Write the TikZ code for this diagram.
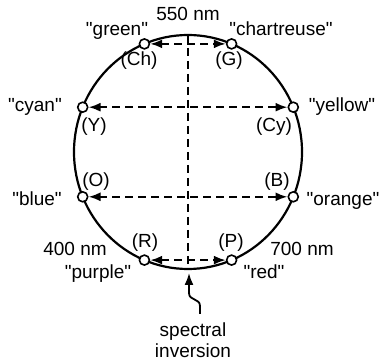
\documentclass[tikz,border=0pt]{standalone}
\usepackage{fontspec}
\setmainfont{Liberation Sans}[Ligatures=TeXOff]
\usetikzlibrary{arrows.meta}
\begin{document}
\begin{tikzpicture}[x=1pt,y=-1pt,
  lbl/.style={font=\fontsize{19}{21}\selectfont, inner sep=0pt, anchor=base},
  dot/.style={circle, draw, fill=white, line width=1.6pt, minimum size=10pt, inner sep=0pt},
  ring/.style={line width=2.2pt},
  dashln/.style={line width=2.1pt, dash pattern=on 8pt off 5pt},
  tipa/.style={-{Latex[length=12pt,width=9pt]}},
  dtip/.style={{Latex[length=12pt,width=9pt]}-{Latex[length=12pt,width=9pt]}}]
\useasboundingbox (0,0) rectangle (383,363);
\coordinate (c) at (188,152);
\coordinate (top) at (188,35);
\coordinate (bot) at (188,269);
\draw[ring] (c) ellipse [x radius=114, y radius=117];
\draw[dashln] (top) -- (bot);
\node[dot] (Ch) at (144.4,43.9) {};
\node[dot] (G) at (231.6,43.9) {};
\node[dot] (Y) at (82.7,107.2) {};
\node[dot] (Cy) at (293.3,107.2) {};
\node[dot] (O) at (82.7,196.8) {};
\node[dot] (B) at (293.3,196.8) {};
\node[dot] (R) at (144.4,260.1) {};
\node[dot] (P) at (231.6,260.1) {};
\draw[dashln,dtip] (Ch) -- (G);
\draw[dashln,dtip] (Y) -- (Cy);
\draw[dashln,dtip] (O) -- (B);
\draw[dashln,dtip] (R) -- (P);
\node[lbl] (l550) at (188,21) {550 nm};
\node[lbl] (lgreen) at (117,36) {"green"};
\node[lbl] (lchart) at (281,36) {"chartreuse"};
\node[lbl] (lCh) at (139,66) {(Ch)};
\node[lbl] (lG) at (229,66) {(G)};
\node[lbl] (lcyan) at (35,112) {"cyan"};
\node[lbl] (lyellow) at (342,112) {"yellow"};
\node[lbl] (lY) at (94,132) {(Y)};
\node[lbl] (lCy) at (274,132) {(Cy)};
\node[lbl] (lO) at (96,187) {(O)};
\node[lbl] (lB) at (277,187) {(B)};
\node[lbl] (lblue) at (37,206) {"blue"};
\node[lbl] (lorange) at (343,206) {"orange"};
\node[lbl] (l400) at (75,256) {400 nm};
\node[lbl] (l700) at (302,256) {700 nm};
\node[lbl] (lR) at (145,248) {(R)};
\node[lbl] (lP) at (231,248) {(P)};
\node[lbl] (lpurple) at (98,279) {"purple"};
\node[lbl] (lred) at (264,279) {"red"};
\node[lbl] (lspec) at (193,337) {spectral};
\node[lbl] (linv) at (193,358) {inversion};
\coordinate (sq) at (200,314);
\draw[line width=1.8pt,tipa] (sq) -- (200,306) .. controls (200,298) and (189,301) .. (189,293) -- (189,273);
\end{tikzpicture}
\end{document}
